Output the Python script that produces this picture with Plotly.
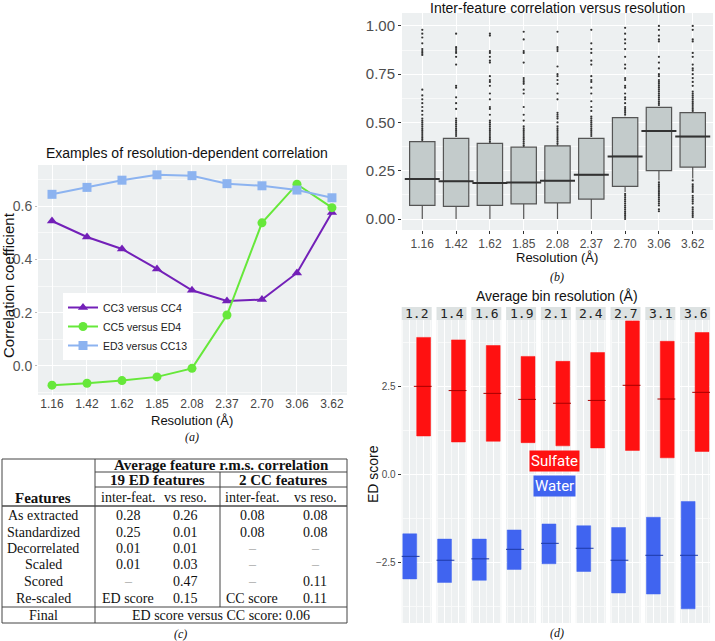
import plotly.graph_objects as go

W, H = 715, 641


def px(x):
    return x / W


def py(y):
    return 1 - y / H


# ---- panel (a): example correlations
resolutions = ["1.16", "1.42", "1.62", "1.85", "2.08", "2.37", "2.70", "3.06", "3.62"]
cc3_cc4 = [0.544, 0.484, 0.439, 0.364, 0.284, 0.244, 0.249, 0.349, 0.576]
cc5_ed4 = [-0.072, -0.065, -0.055, -0.041, -0.009, 0.191, 0.537, 0.682, 0.594]
ed3_cc13 = [0.644, 0.670, 0.697, 0.717, 0.714, 0.684, 0.676, 0.660, 0.631]

# ---- panel (b): inter-feature correlation boxes
b_lower = [0.0, 0.0, 0.0, 0.0, 0.0, 0.0, 0.14, 0.20, 0.21]
b_q1 = [0.071, 0.065, 0.071, 0.078, 0.083, 0.103, 0.169, 0.251, 0.269]
b_median = [0.207, 0.195, 0.186, 0.189, 0.198, 0.229, 0.324, 0.456, 0.427]
b_q3 = [0.401, 0.418, 0.392, 0.372, 0.379, 0.418, 0.525, 0.578, 0.551]
b_upper = [0.41, 0.42, 0.40, 0.38, 0.39, 0.42, 0.53, 0.58, 0.555]
b_outliers = {
    "1.16": [0.41, 0.42, 0.43, 0.44, 0.45, 0.46, 0.47, 0.48, 0.49, 0.50, 0.51, 0.52, 0.54, 0.56,
             0.58, 0.60, 0.62, 0.64, 0.67, 0.85, 0.86, 0.87, 0.88, 0.91, 0.94, 0.96, 0.98],
    "1.42": [0.43, 0.44, 0.45, 0.46, 0.47, 0.48, 0.49, 0.50, 0.51, 0.52, 0.57, 0.60, 0.63, 0.68,
             0.69, 0.80, 0.84, 0.86, 0.87, 0.88, 0.89, 0.96],
    "1.62": [0.40, 0.41, 0.42, 0.43, 0.44, 0.45, 0.46, 0.47, 0.48, 0.49, 0.50, 0.51, 0.54, 0.57,
             0.58, 0.62, 0.65, 0.69, 0.71, 0.72, 0.74, 0.81, 0.82, 0.84, 0.86, 0.87, 0.95, 0.96],
    "1.85": [0.38, 0.39, 0.40, 0.41, 0.42, 0.43, 0.44, 0.45, 0.46, 0.47, 0.48, 0.51, 0.54, 0.58,
             0.65, 0.67, 0.70, 0.71, 0.72, 0.73, 0.81, 0.86, 0.87, 0.93, 0.97],
    "2.08": [0.39, 0.40, 0.41, 0.42, 0.43, 0.44, 0.45, 0.46, 0.47, 0.48, 0.50, 0.52, 0.53, 0.54,
             0.55, 0.62, 0.65, 0.70, 0.72, 0.74, 0.75, 0.79, 0.87, 0.88, 0.89, 0.97],
    "2.37": [0.43, 0.44, 0.45, 0.46, 0.47, 0.48, 0.49, 0.50, 0.51, 0.52, 0.53, 0.56, 0.58, 0.61,
             0.65, 0.68, 0.71, 0.72, 0.74, 0.80, 0.82, 0.86, 0.88, 0.91, 0.98],
    "2.70": [0.00, 0.01, 0.02, 0.03, 0.04, 0.05, 0.06, 0.07, 0.08, 0.09, 0.10, 0.11, 0.12, 0.13,
             0.54, 0.55, 0.56, 0.57, 0.58, 0.60, 0.62, 0.63, 0.65, 0.68, 0.69, 0.72, 0.73, 0.78,
             0.80, 0.84, 0.88, 0.91, 0.93, 0.96, 0.99],
    "3.06": [0.04, 0.05, 0.07, 0.08, 0.09, 0.10, 0.11, 0.12, 0.13, 0.14, 0.15, 0.16, 0.17, 0.18,
             0.19, 0.59, 0.60, 0.61, 0.62, 0.63, 0.64, 0.65, 0.66, 0.67, 0.68, 0.69, 0.70, 0.71,
             0.72, 0.74, 0.75, 0.78, 0.81, 0.84, 0.92, 0.93, 0.95, 0.98, 1.00],
    "3.62": [0.01, 0.02, 0.03, 0.04, 0.05, 0.06, 0.08, 0.09, 0.10, 0.11, 0.12, 0.14, 0.15, 0.16,
             0.17, 0.18, 0.20, 0.56, 0.57, 0.58, 0.59, 0.60, 0.61, 0.62, 0.63, 0.64, 0.65, 0.66,
             0.69, 0.71, 0.73, 0.75, 0.77, 0.78, 0.80, 0.84, 0.86, 0.92, 0.93, 0.98, 1.00],
}

# ---- panel (c): feature table
row_labels = ["As extracted", "Standardized", "Decorrelated", "Scaled", "Scored", "Re-scaled"]
ed_inter = ["0.28", "0.25", "0.01", "0.01", "–", "ED score"]
ed_reso = ["0.26", "0.01", "0.01", "0.03", "0.47", "0.15"]
cc_inter = ["0.08", "0.08", "–", "–", "–", "CC score"]
cc_reso = ["0.08", "0.08", "–", "–", "0.11", "0.11"]
final_text = "ED score versus CC score: 0.06"

# ---- panel (d): ED score per bin
bins = ["1.2", "1.4", "1.6", "1.9", "2.1", "2.4", "2.7", "3.1", "3.6"]
sulfate_q1 = [1.08, 0.91, 0.93, 0.89, 0.80, 0.74, 0.67, 0.46, 0.64]
sulfate_med = [2.49, 2.37, 2.29, 2.12, 2.01, 2.09, 2.52, 2.13, 2.32]
sulfate_q3 = [3.88, 3.81, 3.65, 3.34, 3.20, 3.45, 4.35, 3.77, 4.02]
water_q1 = [-2.98, -3.08, -3.02, -2.71, -2.55, -2.77, -3.38, -3.41, -3.83]
water_med = [-2.34, -2.45, -2.41, -2.14, -1.97, -2.11, -2.45, -2.31, -2.31]
water_q3 = [-1.70, -1.85, -1.85, -1.59, -1.42, -1.47, -1.52, -1.23, -0.78]

SANS = "Liberation Sans"
SERIF = "Liberation Serif"
BG = "#edf0f1"

fig = go.Figure()

# (a)
series = [("CC3 versus CC4", cc3_cc4, "#7320b8", "triangle-up"),
          ("CC5 versus ED4", cc5_ed4, "#66e83a", "circle"),
          ("ED3 versus CC13", ed3_cc13, "#8cb3f0", "square")]
for name, vals, color, sym in series:
    fig.add_trace(go.Scatter(x=resolutions, y=vals, name=name, mode="lines+markers",
                             line=dict(color=color, width=2),
                             marker=dict(symbol=sym, size=9, color=color),
                             xaxis="x", yaxis="y"))

# (b)
fig.add_trace(go.Box(x=resolutions, q1=b_q1, median=b_median, q3=b_q3,
                     lowerfence=b_lower, upperfence=b_upper, boxpoints=False,
                     width=0.75, whiskerwidth=0, fillcolor="#c3cbcb",
                     line=dict(color="#555555", width=1.2), showlegend=False,
                     xaxis="x2", yaxis="y2"))
fig.add_trace(go.Scatter(x=resolutions, y=b_median, mode="markers", showlegend=False,
                         marker=dict(symbol="line-ew", size=25,
                                     line=dict(width=2, color="#333333")),
                         xaxis="x2", yaxis="y2"))
ox, oy = [], []
for res in resolutions:
    for v in b_outliers[res]:
        ox.append(res)
        oy.append(v)
fig.add_trace(go.Scatter(x=ox, y=oy, mode="markers", showlegend=False,
                         marker=dict(size=2.2, color="#333333"),
                         xaxis="x2", yaxis="y2"))

# (d)
layout = {}
facet_left, facet_w, facet_step = 401.7, 30, 34.8
for i, b in enumerate(bins):
    n = 3 + i
    xa, ya = f"x{n}", f"y{n}"
    for pos, q1, med, q3, fill, dark in [
            (0, water_q1[i], water_med[i], water_q3[i], "#4064f0", "#1f3aa8"),
            (1, sulfate_q1[i], sulfate_med[i], sulfate_q3[i], "#ff1111", "#a80000")]:
        fig.add_trace(go.Box(x=[pos], q1=[q1], median=[med], q3=[q3],
                             lowerfence=[q1], upperfence=[q3], boxpoints=False,
                             width=1, whiskerwidth=0, fillcolor=fill,
                             line=dict(color=fill, width=0.5), showlegend=False,
                             xaxis=xa, yaxis=ya))
        fig.add_trace(go.Scatter(x=[pos], y=[med], mode="markers", showlegend=False,
                                 marker=dict(symbol="line-ew", size=14,
                                             line=dict(width=1, color=dark)),
                                 xaxis=xa, yaxis=ya))
    x0 = facet_left + i * facet_step
    layout[f"xaxis{n}"] = dict(domain=[px(x0), px(x0 + facet_w)], anchor=ya,
                               range=[-0.58, 1.58], tickvals=[0, 1], showticklabels=False,
                               ticks="", showgrid=True, gridcolor="white", gridwidth=1,
                               zeroline=False, showline=False, automargin=False,
                               minor=dict(tick0=-0.5, dtick=1, showgrid=True,
                                          gridcolor="#f8f9f9", gridwidth=0.5))
    yax = dict(domain=[py(623), py(320)], anchor=xa, range=[-4.233, 4.375],
               tick0=0, dtick=2.5, tickformat=".1f", showgrid=True, gridcolor="white",
               gridwidth=1, zeroline=False, showline=False, automargin=False,
               minor=dict(tick0=0, dtick=1.25, showgrid=True, gridcolor="#f8f9f9",
                          gridwidth=0.5))
    if i == 0:
        yax.update(ticks="outside", ticklen=3, tickcolor="#333333",
                   tickfont=dict(family=SANS, size=10, color="#4d4d4d"))
    else:
        yax.update(matches="y3", showticklabels=False, ticks="")
    layout[f"yaxis{n}"] = yax

shapes = []
annotations = []


def note(x, y, text, **kw):
    annotations.append(dict(x=px(x), y=py(y), xref="paper", yref="paper", text=text,
                            xanchor="center", yanchor="middle", showarrow=False, **kw))


# strips for (d)
for i, b in enumerate(bins):
    x0 = facet_left + i * facet_step
    shapes.append(dict(type="rect", xref="paper", yref="paper", x0=px(x0), x1=px(x0 + facet_w),
                       y0=py(320), y1=py(307), fillcolor="#dde2e2", line=dict(width=0)))
    note(x0 + facet_w / 2, 313.5, b,
         font=dict(family="DejaVu Sans Mono", size=13, color="#222222"))

note(554, 461, "Sulfate", bgcolor="#ff1111", borderpad=1,
     font=dict(family="Roboto", size=15, color="white"))
note(554, 486, "Water", bgcolor="#4064f0", borderpad=1,
     font=dict(family="Roboto", size=15, color="white"))

# (c) table drawn with lines and text
L, R, C1, C2 = 2, 347, 95, 220
line_color = "#444444"
for x0, y0, x1, y1, w, c in [
        (L, 459, R, 459, 1, line_color),
        (C1, 472, R, 472, 1, line_color),
        (C1, 487, R, 487, 1, line_color),
        (L, 506, R, 506, 2, "#777777"),
        (L, 607, R, 607, 1, line_color),
        (L, 623, R, 623, 1, line_color),
        (L, 459, L, 623, 1, line_color),
        (R, 459, R, 623, 1, line_color),
        (C1, 459, C1, 623, 1, line_color),
        (C2, 472, C2, 607, 1, line_color)]:
    shapes.append(dict(type="line", xref="paper", yref="paper", x0=px(x0), x1=px(x1),
                       y0=py(y0), y1=py(y1), line=dict(color=c, width=w)))


def cell(x, y, text, bold=False, italic=False, color="#111111", size=14):
    if bold:
        text = f"<b>{text}</b>"
    if italic:
        text = f"<i>{text}</i>"
    note(x, y, text, font=dict(family=SERIF, size=size, color=color))


col_x = [43, 128, 185, 252, 315]
cell(221, 465, "Average feature r.m.s. correlation", bold=True, size=15)
cell(157, 480, "19 ED features", bold=True, size=15)
cell(283, 480, "2 CC features", bold=True, size=15)
cell(col_x[0], 498, "Features", bold=True, size=15)
for cx, t in zip(col_x[1:], ["inter-feat.", "vs reso.", "inter-feat.", "vs reso."]):
    cell(cx, 497, t)
row_y = [515, 532, 548, 564, 581, 598]
for r, ry in enumerate(row_y):
    cell(col_x[0], ry, row_labels[r])
    for cx, col in zip(col_x[1:], [ed_inter, ed_reso, cc_inter, cc_reso]):
        v = col[r]
        cell(cx, ry, v, color="#aaaaaa" if v == "–" else "#111111")
cell(col_x[0], 615, "Final")
cell(221, 615, final_text)

# titles and labels
for x, y, text, size, extra in [
        (187, 153, "Examples of resolution-dependent correlation", 14, {}),
        (192, 420, "Resolution (Å)", 13, {}),
        (557, 8, "Inter-feature correlation versus resolution", 14, {}),
        (557, 258, "Resolution (Å)", 13, {}),
        (557, 296, "Average bin resolution (Å)", 14, {}),
        (8, 285, "Correlation coefficient", 15, {"textangle": -90}),
        (373, 474, "ED score", 14, {"textangle": -90})]:
    note(x, y, text, font=dict(family=SANS, size=size, color="#111111"), **extra)
for x, y, t in [(192, 437, "(a)"), (557, 277, "(b)"), (180, 634, "(c)"), (557, 633, "(d)")]:
    cell(x, y, t, italic=True, size=12)

layout.update(
    xaxis=dict(domain=[px(38), px(347)], anchor="y", type="category", automargin=False,
               range=[-0.4, 8.43], showgrid=True, gridcolor="white", zeroline=False,
               ticks="", tickfont=dict(family=SANS, size=12, color="#444444")),
    yaxis=dict(domain=[py(395), py(165)], anchor="x", range=[-0.109, 0.754],
               automargin=False,
               tickvals=[0, 0.2, 0.4, 0.6], tickformat=".1f", showgrid=True,
               gridcolor="white", zeroline=False, ticks="outside", ticklen=2,
               tickcolor="#bbbbbb", tickfont=dict(family=SANS, size=14, color="#555555"),
               minor=dict(tickvals=[-0.1, 0.1, 0.3, 0.5, 0.7], showgrid=True,
                          gridcolor="#f8f9f9", gridwidth=0.5)),
    xaxis2=dict(domain=[px(402), px(713)], anchor="y2", type="category", automargin=False,
                range=[-0.6, 8.6], showgrid=True, gridcolor="white", zeroline=False,
                ticks="outside", ticklen=3, tickcolor="#333333",
                tickfont=dict(family=SANS, size=12, color="#4d4d4d")),
    yaxis2=dict(domain=[py(230), py(13)], anchor="x2", range=[-0.057, 1.067],
                automargin=False,
                tick0=0, dtick=0.25, tickformat=".2f", showgrid=True, gridcolor="white",
                zeroline=False, ticks="outside", ticklen=3, tickcolor="#333333",
                tickfont=dict(family=SANS, size=15, color="#4d4d4d"),
                minor=dict(tick0=0.125, dtick=0.25, showgrid=True, gridcolor="#f8f9f9",
                           gridwidth=0.5)),
)

fig.update_layout(
    width=W, height=H, autosize=False,
    margin=dict(l=0, r=0, t=0, b=0),
    paper_bgcolor="white", plot_bgcolor=BG,
    font=dict(family=SANS, color="#222222"),
    showlegend=True,
    legend=dict(x=px(63), y=py(293), xanchor="left", yanchor="top",
                bgcolor="white", borderwidth=0,
                font=dict(family=SANS, size=10.5, color="#222222"),
                itemwidth=30, tracegroupgap=4),
    shapes=shapes, annotations=annotations,
    **layout,
)

# the page's default body margin would shift the whole figure by 8px
fig.write_html("out.html", config={"displayModeBar": False},
               post_script="document.body.style.margin = '0';")
